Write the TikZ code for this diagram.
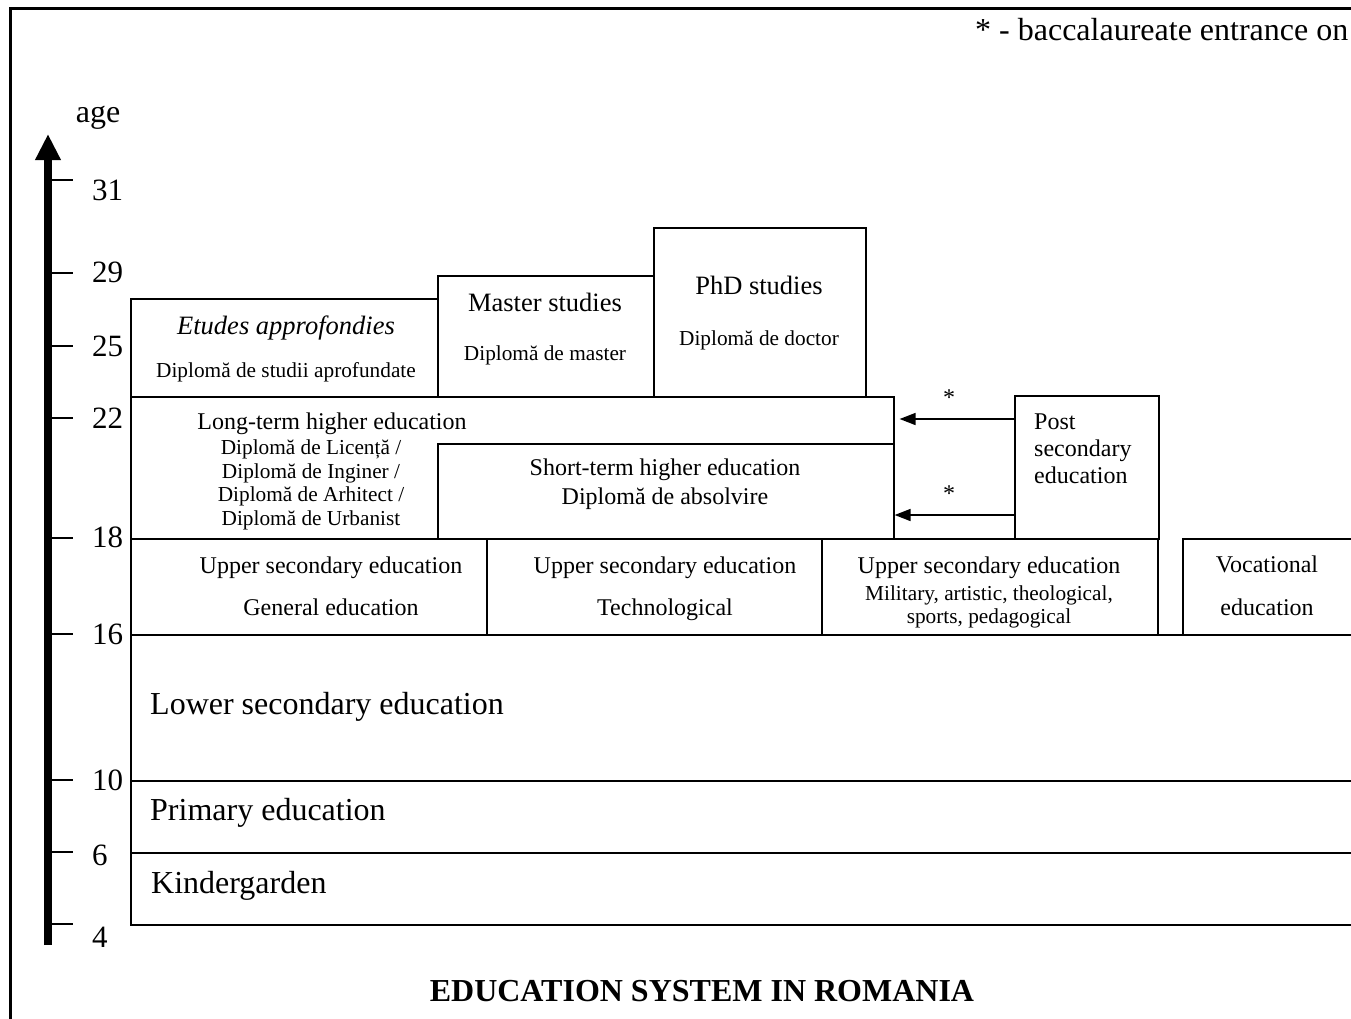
\documentclass[tikz,border=0pt]{standalone}
\usepackage{fontspec}
\setmainfont{Liberation Serif}
\usetikzlibrary{arrows.meta}
\tikzset{
  box/.style={draw, line width=1.6pt, inner sep=0pt, anchor=north west},
  fbig/.style={font=\fontsize{32}{38}\selectfont, inner sep=0pt},
  fage/.style={font=\fontsize{31}{36}\selectfont, inner sep=0pt, anchor=west},
  fmid/.style={font=\fontsize{24}{28}\selectfont, inner sep=0pt},
  fttl/.style={font=\fontsize{26.5}{31}\selectfont, inner sep=0pt},
  fsub/.style={font=\fontsize{21.3}{23.5}\selectfont, inner sep=0pt},
  tick/.style={line width=1.5pt},
  conn/.style={line width=1.6pt, -{Triangle[width=12pt,length=16pt]}},
}
\begin{document}
\begin{tikzpicture}[x=1pt,y=-1pt]
\useasboundingbox (0,0) rectangle (1351,1018);
\clip (0,0) rectangle (1351,1018);
% frame
\draw[line width=3pt] (10,1030) -- (10,8) -- (1360,8);
% footnote
\node[fbig, anchor=west] (note) at (975,30) {* - baccalaureate entrance on};
% axis
\draw[line width=8pt, -{Triangle[width=24pt,length=26pt]}] (48,945) -- (48,134);
\node[fbig] (age) at (98,118) {age};
\foreach \yy/\lab/\ly in {180/31/190, 273/29/272, 346/25/346, 418/22/418, 538/18/537, 634/16/634, 780/10/780, 852/6/855, 924/4/937}{
  \draw[tick] (52,\yy) -- (73,\yy);
  \node[fage] (age\lab) at (92,\ly) {\lab};
}
% bottom layers
\node[box, minimum width=1240pt, minimum height=72pt] (kg) at (130,852) {};
\node[box, minimum width=1240pt, minimum height=72pt] (prim) at (130,780) {};
\node[box, minimum width=1240pt, minimum height=146pt] (lower) at (130,634) {};
\node[fbig, anchor=west] (kgt) at (151,886) {Kindergarden};
\node[fbig, anchor=west] (primt) at (150,813) {Primary education};
\node[fbig, anchor=west] (lowert) at (150,707) {Lower secondary education};
% upper secondary row
\node[box, minimum width=356pt, minimum height=96pt] (usgen) at (130,538) {};
\node[box, minimum width=335pt, minimum height=96pt] (ustech) at (486,538) {};
\node[box, minimum width=336pt, minimum height=96pt] (usmil) at (821,538) {};
\node[box, minimum width=200pt, minimum height=96pt] (voc) at (1182,538) {};
\node[fmid] (usgen1) at (331,568) {Upper secondary education};
\node[fmid] (usgen2) at (331,607) {General education};
\node[fmid] (ustech1) at (665,568) {Upper secondary education};
\node[fmid] (ustech2) at (665,610) {Technological};
\node[fmid] (usmil1) at (989,568) {Upper secondary education};
\node[fsub, align=center] (usmil2) at (989,607) {Military, artistic, theological,\\sports, pedagogical};
\node[fmid] (voc1) at (1267,564) {Vocational};
\node[fmid] (voc2) at (1267,607) {education};
% higher education
\node[box, minimum width=763pt, minimum height=142pt] (long) at (130,396) {};
\node[box, minimum width=456pt, minimum height=95pt] (short) at (437,443) {};
\node[fmid] (longt) at (332,424) {Long-term higher education};
\node[fsub, align=center] (longd) at (311,485) {Diplomă de Licență /\\Diplomă de Inginer /\\Diplomă de Arhitect /\\Diplomă de Urbanist};
\node[fmid, align=center, font=\fontsize{24}{29}\selectfont] (shortt) at (665,484) {Short-term higher education\\Diplomă de absolvire};
\node[box, minimum width=144pt, minimum height=143pt] (post) at (1014,395) {};
\node[fmid, align=left, anchor=west, font=\fontsize{24}{27}\selectfont] (postt) at (1034,449) {Post\\secondary\\education};
% postgraduate
\node[box, minimum width=307pt, minimum height=98pt] (etudes) at (130,298) {};
\node[box, minimum width=216pt, minimum height=121pt] (master) at (437,275) {};
\node[box, minimum width=212pt, minimum height=169pt] (phd) at (653,227) {};
\node[fttl, font=\fontsize{26.5}{31}\selectfont\itshape] (etudes1) at (286,328) {Etudes approfondies};
\node[fsub] (etudes2) at (286,372) {Diplomă de studii aprofundate};
\node[fttl] (master1) at (545,302) {Master studies};
\node[fsub] (master2) at (545,355) {Diplomă de master};
\node[fttl] (phd1) at (759,285) {PhD studies};
\node[fsub] (phd2) at (759,340) {Diplomă de doctor};
% connectors
\coordinate (ya) at (0,419);
\coordinate (yb) at (0,515);
\draw[conn, shorten >=5pt] (post.west |- ya) -- (long.east |- ya);
\draw[conn] (post.west |- yb) -- (long.east |- yb);
\node[fmid] (stara) at (949,398) {*};
\node[fmid] (starb) at (949,494) {*};
% title
\node[fbig, font=\fontsize{32}{38}\selectfont\bfseries] (title) at (702,991) {EDUCATION SYSTEM IN ROMANIA};
\end{tikzpicture}
\end{document}
